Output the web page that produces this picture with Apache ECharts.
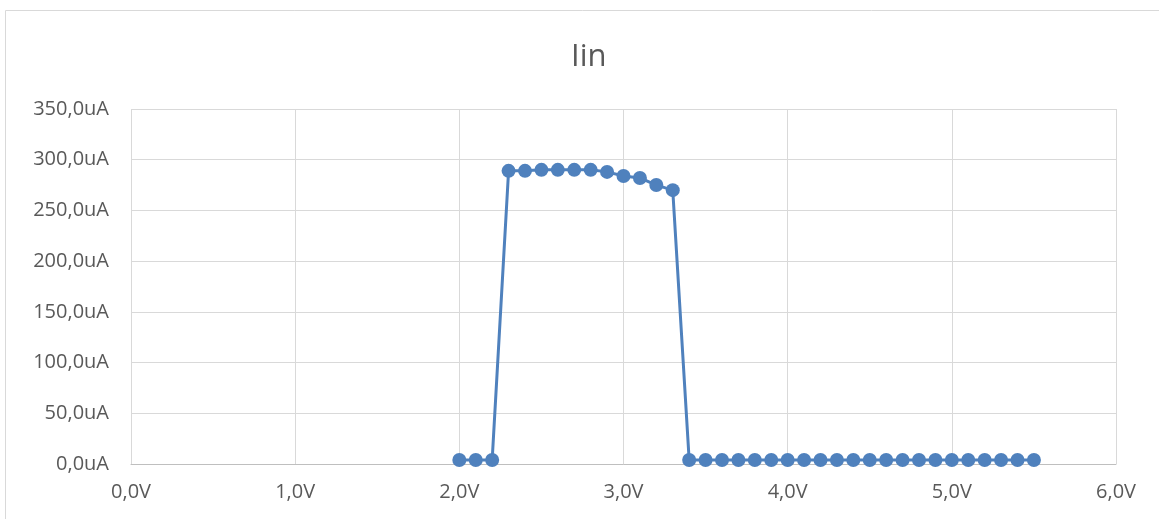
<!DOCTYPE html>
<html><head><meta charset="utf-8">
<script src="https://cdn.jsdelivr.net/npm/echarts@6/dist/echarts.min.js"></script>
<style>html,body{margin:0;padding:0;background:#fff}#c{width:1159px;height:519px}</style>
</head><body><div id="c"></div>
<script>
const voltages = [2.0,2.1,2.2,2.3,2.4,2.5,2.6,2.7,2.8,2.9,3.0,3.1,3.2,3.3,3.4,3.5,3.6,3.7,3.8,3.9,4.0,4.1,4.2,4.3,4.4,4.5,4.6,4.7,4.8,4.9,5.0,5.1,5.2,5.3,5.4,5.5];
const currents = [4,4,4,289,289,290,290,290,290,288,284,282,275,270,4,4,4,4,4,4,4,4,4,4,4,4,4,4,4,4,4,4,4,4,4,4];
const titleText = 'Iin';
const fmt = (v, unit) => v.toFixed(1).replace('.', ',') + unit;
const font = '"Open Sans", sans-serif';
const chart = echarts.init(document.getElementById('c'));
chart.setOption({
  animation: false,
  title: {text: titleText, left: 566, top: 37, textStyle: {fontFamily: font, fontSize: 31, fontWeight: 'normal', color: '#595959'}},
  graphic: [{type: 'rect', shape: {x: 5.5, y: 10.5, width: 1160, height: 520}, style: {fill: 'none', stroke: '#d9d9d9', lineWidth: 1}, silent: true}],
  grid: {left: 131, right: 43, top: 109, bottom: 55},
  xAxis: {type: 'value', min: 0, max: 6, interval: 1,
    axisLine: {lineStyle: {color: '#bfbfbf', width: 1}}, axisTick: {show: false},
    splitLine: {show: true, lineStyle: {color: '#d9d9d9', width: 1}},
    axisLabel: {color: '#595959', fontSize: 20, fontFamily: font, margin: 18, formatter: v => fmt(v, 'V')}},
  yAxis: {type: 'value', min: 0, max: 350, interval: 50,
    axisLine: {show: false}, axisTick: {show: false},
    splitLine: {lineStyle: {color: '#d9d9d9', width: 1}},
    axisLabel: {color: '#595959', fontSize: 20, fontFamily: font, margin: 22, formatter: v => fmt(v, 'uA')}},
  series: [{type: 'line', data: voltages.map((v, i) => [v, currents[i]]),
    symbol: 'circle', symbolSize: 14, lineStyle: {color: '#4f81bd', width: 3},
    itemStyle: {color: '#4f81bd'}}]
});
</script></body></html>
